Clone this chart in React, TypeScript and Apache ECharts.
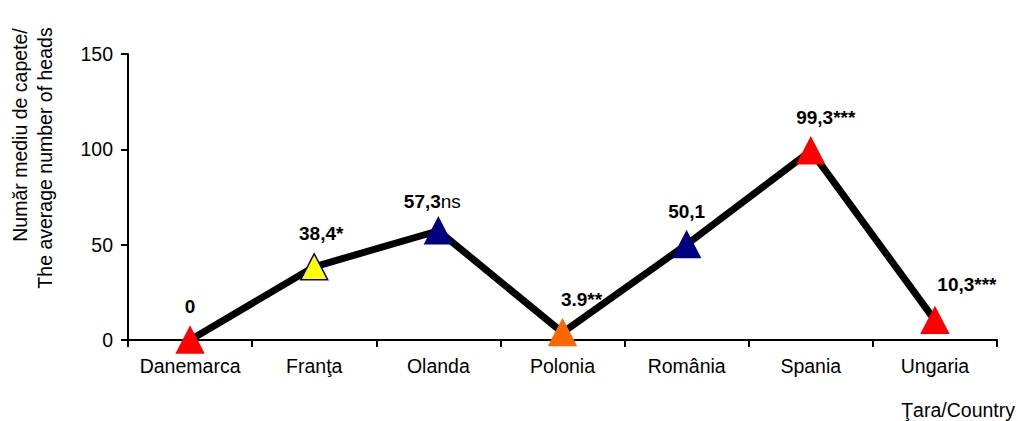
import React, { useEffect, useRef } from "react";
import * as echarts from "echarts";

const categories = ["Danemarca", "Franţa", "Olanda", "Polonia", "România", "Spania", "Ungaria"];
const values = [0, 38.4, 57.3, 3.9, 50.1, 99.3, 10.3];
const labelMain = ["0", "38,4*", "57,3", "3.9**", "50,1", "99,3***", "10,3***"];
const labelSuffix = ["", "", "ns", "", "", "", ""];
const markerColors = ["#FF0000", "#FFFF00", "#000080", "#FF6600", "#000080", "#FF0000", "#FF0000"];
const markerBorders = ["#FF0000", "#000080", "#000080", "#FF6600", "#000080", "#FF0000", "#FF0000"];
const labelDx = [0, 7, -6, 19, 0, 15, 32];
const labelDy = [0, 0, 4, 0, 0, 0, -3];
const yTicks = [0, 50, 100, 150];

const FONT = "Arial, 'Liberation Sans', sans-serif";

export default function App() {
  const ref = useRef<HTMLDivElement>(null);
  useEffect(() => {
    if (!ref.current) return;
    const chart = echarts.init(ref.current, undefined, { renderer: "svg" });
    const data = values.map((v, i) => ({
      value: v,
      itemStyle: { color: markerColors[i], borderColor: markerBorders[i], borderWidth: 1.5 },
      label: {
        offset: [labelDx[i], labelDy[i]],
        formatter: labelSuffix[i] ? `{b|${labelMain[i]}}{n|${labelSuffix[i]}}` : `{b|${labelMain[i]}}`,
      },
    }));
    chart.setOption({
      animation: false,
      backgroundColor: "#fff",
      grid: { left: 128, right: 21, top: 54, bottom: 81, containLabel: false },
      xAxis: {
        type: "category",
        data: categories,
        boundaryGap: true,
        axisLine: { lineStyle: { color: "#000", width: 2 } },
        axisTick: { show: true, interval: 0, length: 7, lineStyle: { color: "#000", width: 2 } },
        axisLabel: { color: "#000", fontSize: 19.5, fontFamily: FONT, margin: 16, interval: 0 },
        splitLine: { show: false },
      },
      yAxis: {
        type: "value",
        min: yTicks[0],
        max: yTicks[yTicks.length - 1],
        interval: 50,
        axisLine: { show: true, lineStyle: { color: "#000", width: 2 } },
        axisTick: { show: true, length: 7, lineStyle: { color: "#000", width: 2 } },
        axisLabel: { color: "#000", fontSize: 19.5, fontFamily: FONT, margin: 15 },
        splitLine: { show: false },
      },
      graphic: [
        {
          type: "text",
          x: 20,
          y: 135,
          rotation: Math.PI / 2,
          style: {
            text: "Număr mediu de capete/",
            fill: "#000",
            fontSize: 19.5,
            fontFamily: FONT,
            align: "center",
            verticalAlign: "middle",
          },
        },
        {
          type: "text",
          x: 45,
          y: 158,
          rotation: Math.PI / 2,
          style: {
            text: "The average number of heads",
            fill: "#000",
            fontSize: 19.5,
            fontFamily: FONT,
            align: "center",
            verticalAlign: "middle",
          },
        },
        {
          type: "text",
          x: 1015,
          y: 410,
          style: {
            text: "Ţara/Country",
            fill: "#000",
            fontSize: 19.5,
            fontFamily: FONT,
            align: "right",
            verticalAlign: "middle",
          },
        },
      ],
      series: [
        {
          type: "line",
          data,
          symbol: "triangle",
          symbolSize: [27, 26],
          lineStyle: { color: "#000", width: 7 },
          label: {
            show: true,
            position: "top",
            distance: 10,
            rich: {
              b: { fontSize: 19, fontWeight: "bold", color: "#000", fontFamily: FONT },
              n: { fontSize: 19, fontWeight: "normal", color: "#000", fontFamily: FONT },
            },
          },
        },
      ],
    });
    return () => chart.dispose();
  }, []);
  return <div ref={ref} style={{ width: 1018, height: 421, position: "absolute", left: 0, top: 0 }} />;
}
